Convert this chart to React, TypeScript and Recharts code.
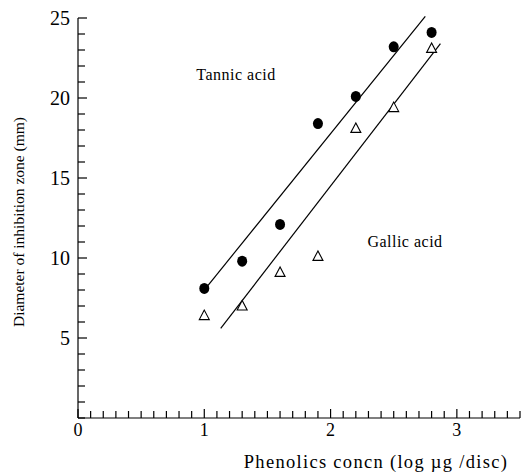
import React from "react";
import { ScatterChart, Scatter, XAxis, YAxis, ReferenceLine } from "recharts";

// ── Data ────────────────────────────────────────────────────────────────
const tannicX = [1.0, 1.3, 1.6, 1.9, 2.2, 2.5, 2.8];
const tannicY = [8.1, 9.8, 12.1, 18.4, 20.1, 23.2, 24.1];
const gallicX = [1.0, 1.3, 1.6, 1.9, 2.2, 2.5, 2.8];
const gallicY = [6.4, 7.0, 9.1, 10.1, 18.1, 19.4, 23.1];

// fitted regression lines (endpoints as drawn)
const tannicFit = [{ x: 0.99, y: 7.9 }, { x: 2.75, y: 25.1 }];
const gallicFit = [{ x: 1.13, y: 5.6 }, { x: 2.87, y: 23.4 }];

const xTicks = Array.from({ length: 36 }, (_, i) => i / 10);
const xLabels = [0, 1, 2, 3];
const yTicks = Array.from({ length: 26 }, (_, i) => i);
const yLabels = [5, 10, 15, 20, 25];

const tannic = tannicX.map((x, i) => ({ x, y: tannicY[i] }));
const gallic = gallicX.map((x, i) => ({ x, y: gallicY[i] }));

const FONT = "'Liberation Serif', 'DejaVu Serif', serif";

// ── Tick renderers (ticks point into the plot) ──────────────────────────

function XTick({ x, y, payload }: any) {
  const v = payload.value as number;
  const major = xLabels.some((l) => Math.abs(l - v) < 1e-6);
  return (
    <g>
      <line x1={x} x2={x} y1={y} y2={y - (major ? 9 : 7)} stroke="#000" strokeWidth={1.2} />
      {major && (
        <text x={x} y={y + 18} textAnchor="middle" fontSize={18} fontFamily={FONT} fill="#000">
          {v}
        </text>
      )}
    </g>
  );
}

function YTick({ x, y, payload }: any) {
  const v = payload.value as number;
  const major = yLabels.includes(v);
  return (
    <g>
      <line x1={x} x2={x + (major ? 9 : 7)} y1={y} y2={y} stroke="#000" strokeWidth={1.2} />
      {major && (
        <text x={x - 8} y={y + 7} textAnchor="end" fontSize={20} fontFamily={FONT} fill="#000">
          {v}
        </text>
      )}
    </g>
  );
}

function Dot({ cx, cy }: any) {
  return <ellipse cx={cx} cy={cy} rx={5} ry={5.5} fill="#000" />;
}

function Triangle({ cx, cy }: any) {
  return (
    <polygon
      points={`${cx},${cy - 5.5} ${cx - 5},${cy + 4} ${cx + 5},${cy + 4}`}
      fill="#fff"
      stroke="#000"
      strokeWidth={1.1}
    />
  );
}

export default function App() {
  return (
    <div style={{ position: "absolute", left: 0, top: 0, width: 526, height: 474, background: "#fff" }}>
      <ScatterChart width={526} height={474} margin={{ top: 18, right: 6, bottom: 26, left: 18 }}>
        <XAxis
          type="number"
          dataKey="x"
          domain={[0, 3.5]}
          ticks={xTicks}
          interval={0}
          tickSize={0}
          tickMargin={0}
          tickLine={false}
          axisLine={{ stroke: "#000", strokeWidth: 1.2 }}
          tick={<XTick />}
          height={30}
        />
        <YAxis
          type="number"
          dataKey="y"
          domain={[0, 25]}
          ticks={yTicks}
          interval={0}
          tickSize={0}
          tickMargin={0}
          tickLine={false}
          axisLine={{ stroke: "#000", strokeWidth: 1.2 }}
          tick={<YTick />}
          width={60}
        />
        <ReferenceLine segment={tannicFit} stroke="#000" strokeWidth={1.2} ifOverflow="visible" />
        <ReferenceLine segment={gallicFit} stroke="#000" strokeWidth={1.2} ifOverflow="visible" />
        <Scatter data={tannic} shape={<Dot />} isAnimationActive={false} />
        <Scatter data={gallic} shape={<Triangle />} isAnimationActive={false} />
        <text x={236} y={80} fontSize={16} fontFamily={FONT} fill="#000" textAnchor="middle" letterSpacing={0.5}>
          Tannic acid
        </text>
        <text x={405} y={247} fontSize={16} fontFamily={FONT} fill="#000" textAnchor="middle" letterSpacing={0.5}>
          Gallic acid
        </text>
        <text
          x={0}
          y={0}
          transform="translate(24,222) rotate(-90)"
          fontSize={15.5}
          fontFamily={FONT}
          fill="#000"
          textAnchor="middle"
        >
          Diameter of inhibition zone (mm)
        </text>
        <text x={376} y={468} fontSize={18.5} fontFamily={FONT} fill="#000" textAnchor="middle" letterSpacing={1.3}>
          Phenolics concn (log µg /disc)
        </text>
      </ScatterChart>
    </div>
  );
}
